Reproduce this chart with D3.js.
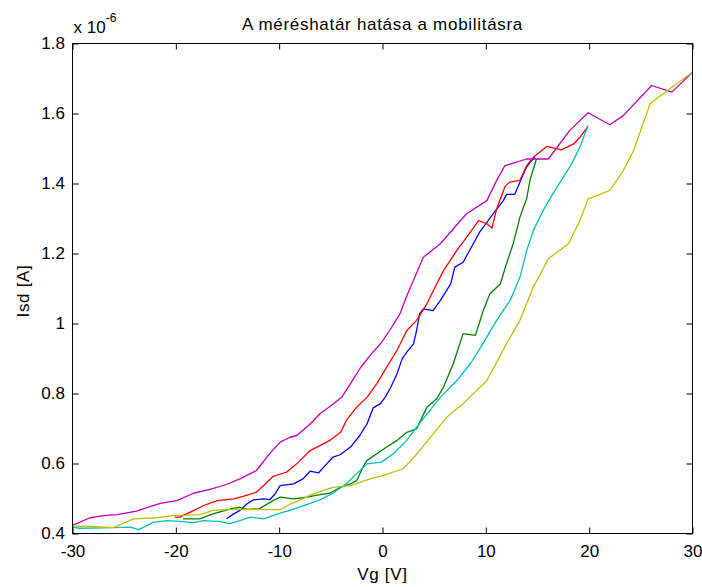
<!DOCTYPE html>
<html>
<head>
<meta charset="utf-8">
<script src="https://cdn.jsdelivr.net/npm/d3@7/dist/d3.min.js"></script>
<style>
  html, body { margin: 0; padding: 0; background: #ffffff; }
  svg { display: block; }
  text { font-family: "Liberation Sans", Arial, Helvetica, sans-serif; fill: #000; }
</style>
</head>
<body>
<svg id="chart" width="702" height="587"></svg>
<script>
// ---- data (Isd in units of 1e-6 A, Vg in V) ----
const title = "A méréshatár hatása a mobilitásra";
const xLabel = "Vg [V]";
const yLabel = "Isd [A]";
const xTicks = [-30, -20, -10, 0, 10, 20, 30];
const xTickLabels = ["-30", "-20", "-10", "0", "10", "20", "30"];
const yTicks = [0.4, 0.6, 0.8, 1.0, 1.2, 1.4, 1.6, 1.8];
const yTickLabels = ["0.4", "0.6", "0.8", "1", "1.2", "1.4", "1.6", "1.8"];

const blueVg  = [-15.1,-14.4,-13.8,-13.1,-12.5,-11.5,-10.9,-10.4,-9.9,-8.6,-7.7,-7.0,-6.2,-5.4,-4.8,-4.1,-3.1,-2.2,-1.5,-0.9,-0.2,0.25,0.8,1.4,1.9,2.35,3.0,3.3,3.6,3.95,4.9,5.6,6.6,7.0,7.8,8.6,9.4,10.1,10.9,11.7,12.0,12.8,13.5,13.95,14.3,14.75];
const blueIsd = [0.442,0.456,0.466,0.485,0.496,0.499,0.497,0.513,0.537,0.542,0.556,0.578,0.573,0.599,0.618,0.625,0.647,0.680,0.713,0.759,0.771,0.789,0.818,0.856,0.899,0.918,0.942,0.980,1.028,1.042,1.037,1.066,1.113,1.161,1.175,1.218,1.261,1.289,1.321,1.351,1.369,1.369,1.418,1.447,1.461,1.475];

const greenVg  = [-19.3,-17.7,-16.4,-14.5,-13.8,-13.1,-11.9,-10.6,-9.9,-8.6,-7.3,-6.05,-5.1,-4.1,-3.1,-2.5,-1.9,-1.5,-0.55,0.4,1.4,2.35,3.3,4.3,5.25,5.9,6.85,7.8,9.0,9.75,10.4,11.4,12.0,12.65,13.3,13.95,14.3,14.9];
const greenIsd = [0.442,0.442,0.456,0.472,0.475,0.469,0.471,0.494,0.504,0.499,0.504,0.511,0.515,0.532,0.542,0.551,0.589,0.609,0.628,0.647,0.666,0.689,0.699,0.761,0.785,0.818,0.885,0.971,0.966,1.037,1.085,1.113,1.171,1.228,1.304,1.357,1.413,1.470];

const redVg  = [-20.1,-19.6,-18.6,-17.3,-16.0,-14.4,-13.5,-12.2,-11.5,-10.6,-9.3,-8.3,-7.0,-6.05,-5.1,-4.05,-3.5,-2.5,-1.5,-0.55,0.4,1.4,2.35,3.3,4.3,4.6,5.9,7.2,8.15,9.3,10.1,10.6,11.05,11.85,12.3,13.3,13.95,14.6,15.9,16.5,17.3,18.5,19.1,19.9];
const redIsd = [0.447,0.447,0.461,0.480,0.494,0.499,0.506,0.518,0.537,0.563,0.575,0.599,0.637,0.651,0.666,0.689,0.723,0.761,0.789,0.828,0.875,0.923,0.980,1.009,1.056,1.075,1.151,1.209,1.247,1.294,1.285,1.273,1.328,1.391,1.404,1.409,1.451,1.475,1.506,1.502,1.496,1.513,1.532,1.563];

const cyanVg  = [-30,-29.3,-27.0,-24.4,-23.6,-23.1,-22.2,-20.9,-19.3,-18.3,-17.3,-15.7,-14.8,-13.8,-12.8,-11.5,-10.6,-9.6,-8.95,-6.05,-4.8,-3.5,-2.5,-1.5,-0.1,1.05,2.35,3.3,5.6,7.2,8.5,9.5,11.05,12.35,13.3,13.96,14.6,15.55,16.5,17.5,18.3,19.1,19.9];
const cyanIsd = [0.418,0.415,0.416,0.418,0.411,0.418,0.432,0.437,0.434,0.431,0.437,0.434,0.428,0.437,0.447,0.442,0.451,0.461,0.466,0.496,0.515,0.542,0.571,0.599,0.604,0.628,0.666,0.704,0.789,0.837,0.885,0.932,1.009,1.066,1.132,1.209,1.266,1.323,1.371,1.418,1.456,1.504,1.566];

const magentaVg  = [-30,-28.3,-27.0,-25.7,-23.8,-22.5,-21.5,-19.9,-18.3,-16.7,-15.1,-13.8,-12.2,-10.9,-9.9,-8.95,-8.3,-7.0,-6.05,-4.8,-3.95,-3.1,-2.1,-1.2,-0.2,0.7,1.7,2.3,3.95,5.6,8.1,10.1,11.05,11.85,13.95,16.05,18.1,19.9,22.0,23.3,26.05,28.0,30];
const magentaIsd = [0.423,0.445,0.451,0.454,0.464,0.477,0.486,0.494,0.515,0.526,0.540,0.556,0.580,0.629,0.661,0.675,0.680,0.713,0.742,0.769,0.789,0.828,0.875,0.909,0.942,0.980,1.028,1.075,1.189,1.228,1.313,1.351,1.409,1.451,1.470,1.470,1.551,1.602,1.568,1.594,1.680,1.661,1.718];

const yellowVg  = [-30,-28.3,-26.05,-24.1,-21.85,-20.25,-17.65,-16.4,-14.4,-9.9,-8.95,-6.7,-4.8,-3.1,-1.2,0.1,2.0,3.0,4.4,6.2,7.8,10.1,12.0,13.3,14.6,16.05,18.0,19.1,19.9,22.0,23.3,24.3,25.9,26.5,28.0,30];
const yellowIsd = [0.421,0.420,0.417,0.442,0.445,0.451,0.454,0.466,0.469,0.468,0.483,0.513,0.532,0.537,0.556,0.566,0.585,0.616,0.666,0.732,0.771,0.837,0.942,1.009,1.104,1.185,1.228,1.294,1.356,1.380,1.437,1.494,1.628,1.642,1.675,1.718];

const seriesNames  = ["blue", "green", "red", "cyan", "magenta", "yellow"];
const seriesColors = ["#0000ff", "#008000", "#ff0000", "#00bfbf", "#bf00bf", "#bfbf00"];
const seriesVg  = [blueVg, greenVg, redVg, cyanVg, magentaVg, yellowVg];
const seriesIsd = [blueIsd, greenIsd, redIsd, cyanIsd, magentaIsd, yellowIsd];

// ---- layout ----
const L = 72.5, R = 692.5, T = 43.5, B = 533.5;
const fs = 17;

const svg = d3.select("#chart");
const x = d3.scaleLinear().domain([-30, 30]).range([L, R]);
const y = d3.scaleLinear().domain([0.4, 1.8]).range([B, T]);

// clip
svg.append("defs").append("clipPath").attr("id", "clip")
  .append("rect").attr("x", L).attr("y", T).attr("width", R - L).attr("height", B - T);

// lines
const line = d3.line().x(d => x(d[0])).y(d => y(d[1]));
const plot = svg.append("g").attr("clip-path", "url(#clip)");
seriesNames.forEach((name, i) => {
  const pts = seriesVg[i].map((v, k) => [v, seriesIsd[i][k]]);
  plot.append("path")
    .datum(pts)
    .attr("d", line)
    .attr("fill", "none")
    .attr("stroke", seriesColors[i])
    .attr("stroke-width", 1.3)
    .attr("stroke-linejoin", "round");
});

// axes
function styleAxis(g) {
  g.select(".domain").remove();
  g.selectAll(".tick line").attr("stroke", "#000").attr("stroke-width", 1);
  g.selectAll(".tick text").attr("font-size", fs).attr("fill", "#000")
    .style("font-family", '"Liberation Sans", Arial, sans-serif');
}
svg.append("g").attr("transform", `translate(0,${B})`)
  .call(d3.axisBottom(x).tickValues(xTicks).tickFormat((d, i) => xTickLabels[i]).tickSizeInner(-6).tickSizeOuter(0).tickPadding(11.5))
  .call(styleAxis);
svg.append("g").attr("transform", `translate(0,${T})`)
  .call(d3.axisTop(x).tickValues(xTicks).tickFormat("").tickSizeInner(-6).tickSizeOuter(0))
  .call(styleAxis);
svg.append("g").attr("transform", `translate(${L},0)`)
  .call(d3.axisLeft(y).tickValues(yTicks).tickFormat((d, i) => yTickLabels[i]).tickSizeInner(-6).tickSizeOuter(0).tickPadding(7.5))
  .call(styleAxis);
svg.append("g").attr("transform", `translate(${R},0)`)
  .call(d3.axisRight(y).tickValues(yTicks).tickFormat("").tickSizeInner(-6).tickSizeOuter(0))
  .call(styleAxis);

// box
svg.append("rect").attr("x", L).attr("y", T).attr("width", R - L).attr("height", B - T)
  .attr("fill", "none").attr("stroke", "#000").attr("stroke-width", 1);

// exponent
const ex = svg.append("text").attr("x", L + 1).attr("y", 33).attr("font-size", fs);
ex.append("tspan").text("x 10");
ex.append("tspan").attr("dy", -11).attr("font-size", 12).text("-6");

// title and labels
svg.append("text").attr("x", (L + R) / 2).attr("y", 30).attr("text-anchor", "middle")
  .attr("font-size", fs).attr("letter-spacing", 0.7).text(title);
svg.append("text").attr("x", (L + R) / 2).attr("y", 580).attr("text-anchor", "middle")
  .attr("font-size", fs).attr("letter-spacing", 0.7).text(xLabel);
svg.append("text").attr("transform", `translate(29,291) rotate(-90)`).attr("text-anchor", "middle")
  .attr("font-size", fs).attr("letter-spacing", 0.7).text(yLabel);
</script>
</body>
</html>
